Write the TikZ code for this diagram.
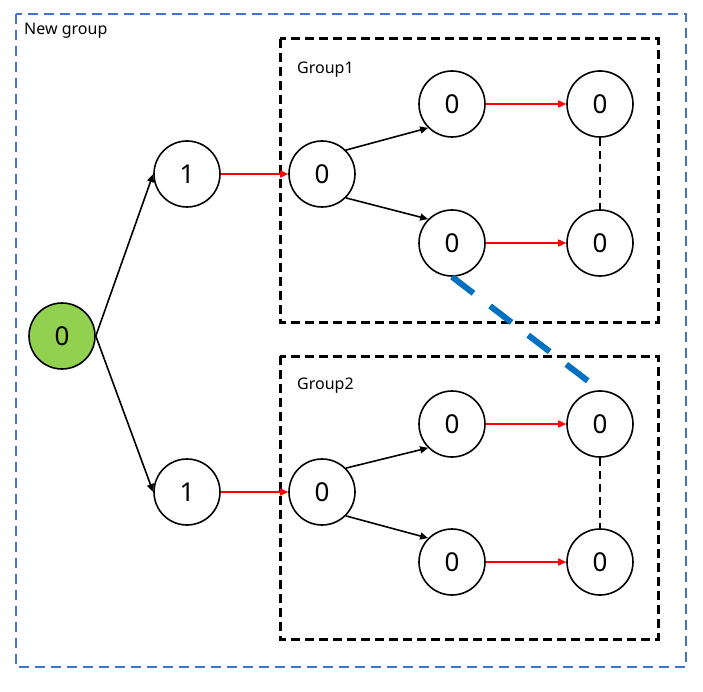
\documentclass[tikz,border=0pt]{standalone}
\usepackage{fontspec}
\setmainfont{Noto Sans}
\usetikzlibrary{arrows.meta}
\definecolor{outerblue}{HTML}{4472C4}
\definecolor{linkblue}{HTML}{0070C0}
\definecolor{nodegreen}{HTML}{92D050}
\begin{document}
\begin{tikzpicture}[x=1pt,y=-1pt,
  circ/.style={circle,draw=black,line width=1.6pt,fill=white,minimum size=66pt,inner sep=0pt,font=\fontsize{26}{30}\selectfont},
  blk/.style={-{Triangle[length=8pt,width=7pt]},line width=1.6pt,black},
  redarr/.style={-{Triangle[length=8pt,width=7pt]},line width=1.6pt,red},
  grp/.style={draw=black,line width=3pt,dash pattern=on 9pt off 5pt},
  vdash/.style={black,line width=2pt,dash pattern=on 8pt off 5pt},
  lbl/.style={anchor=west,inner sep=0pt,font=\fontsize{16}{19}\selectfont}]
\useasboundingbox (0,0) rectangle (703,692);
\draw[outerblue,line width=2.6pt,dash pattern=on 10pt off 6pt] (16,14) rectangle (686,667);
\node[lbl] (lnew) at (24,31) {New group};
\draw[grp] (280,39) rectangle (658,322);
\draw[grp] (280,356) rectangle (658,639);
\node[lbl] (lg1) at (297,70) {Group1};
\node[lbl] (lg2) at (297,386) {Group2};

\node[circ,fill=nodegreen] (r) at (62,336) {0};
\node[circ] (a1) at (187,174) {1};
\node[circ] (b1) at (187,492) {1};

\node[circ] (a2) at (322,174) {0};
\node[circ] (a3) at (452,104) {0};
\node[circ] (a4) at (452,243) {0};
\node[circ] (a5) at (600,104) {0};
\node[circ] (a6) at (600,243) {0};

\node[circ] (b2) at (322,492) {0};
\node[circ] (b3) at (452,424) {0};
\node[circ] (b4) at (452,562) {0};
\node[circ] (b5) at (600,424) {0};
\node[circ] (b6) at (600,562) {0};

\draw[blk] (r.east) -- (a1.west);
\draw[blk] (r.east) -- (b1.west);
\draw[redarr] (a1) -- (a2);
\draw[redarr] (b1) -- (b2);
\draw[blk] (a2.45) -- (a3.225);
\draw[blk] (a2.-45) -- (a4.135);
\draw[blk] (b2.45) -- (b3.225);
\draw[blk] (b2.-45) -- (b4.135);
\draw[redarr] (a3) -- (a5);
\draw[redarr] (a4) -- (a6);
\draw[redarr] (b3) -- (b5);
\draw[redarr] (b4) -- (b6);
\draw[vdash] (a5) -- (a6);
\draw[vdash] (b5) -- (b6);
\draw[linkblue,line width=6pt,dash pattern=on 27pt off 21pt] (a4.south) -- (b5.north);
\end{tikzpicture}
\end{document}
